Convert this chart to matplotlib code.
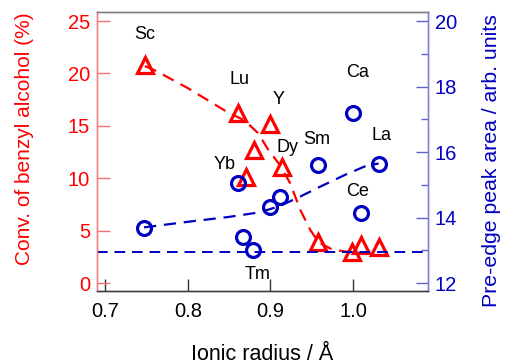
import matplotlib
matplotlib.use("Agg")
import matplotlib.pyplot as plt

plt.rcParams['font.family'] = ['Liberation Sans', 'DejaVu Sans']

# Conversion (%) - red triangles, left axis
conv_x = [0.748, 0.861, 0.870, 0.880, 0.900, 0.914, 0.958, 0.999, 1.010, 1.031]
conv_y = [20.8, 16.2, 10.1, 12.7, 15.2, 11.1, 3.9, 3.0, 3.6, 3.4]

# Pre-edge peak area (arb. units) - blue circles, right axis
peak_x = [0.747, 0.861, 0.867, 0.879, 0.899, 0.911, 0.958, 1.000, 1.010, 1.031]
peak_y = [13.67, 15.04, 13.41, 13.01, 14.33, 14.64, 15.60, 17.18, 14.13, 15.65]

# Trend curves
conv_trend_x = [0.748, 0.760, 0.800, 0.847, 0.869, 0.885, 0.8975, 0.912, 0.924, 0.936, 0.948, 0.958, 0.975, 1.000]
conv_trend_y = [20.7, 20.3, 18.6, 16.35, 15.5, 14.3, 12.7, 11.2, 9.5, 7.0, 5.1, 3.9, 3.2, 2.9]
peak_trend_x = [0.747, 0.800, 0.850, 0.887, 0.910, 0.932, 0.960, 0.990, 1.016, 1.031]
peak_trend_y = [13.70, 13.87, 14.02, 14.16, 14.34, 14.59, 14.94, 15.30, 15.58, 15.65]
peak_baseline = 12.94

labels = ['Sc', 'Lu', 'Y', 'Dy', 'Yb', 'Sm', 'Ca', 'La', 'Ce', 'Tm']
label_x = [0.748, 0.862, 0.910, 0.921, 0.844, 0.956, 1.005, 1.035, 1.005, 0.885]
label_y = [23.7, 19.4, 17.5, 12.9, 11.3, 13.65, 20.1, 14.1, 8.7, 0.8]

xticks = [0.7, 0.8, 0.9, 1.0]
left_ticks = [0, 5, 10, 15, 20, 25]
right_ticks = [12, 14, 16, 18, 20]
right_minor = [13, 15, 17, 19]

RED = '#ff0000'
BLUE = '#0000c0'

fig = plt.figure(figsize=(5.05, 3.64), dpi=100)
ax = fig.add_axes([0.192, 0.2005, 0.6555, 0.7665])
ax2 = ax.twinx()

ax.set_xlim(0.69, 1.0907)
ax.set_ylim(-0.76, 25.86)
ax2.set_ylim(12 - 0.76 * 0.32, 12 + 25.86 * 0.32)

dash = (0, (5.5, 3.5))
ax.plot(conv_trend_x, conv_trend_y, color=RED, lw=1.6, linestyle=dash, zorder=2)
ax.plot(conv_x, conv_y, linestyle='none', marker='^', markersize=11,
        markerfacecolor='none', markeredgecolor=RED, markeredgewidth=2.3, zorder=3)

ax2.plot(peak_trend_x, peak_trend_y, color=BLUE, lw=1.6, linestyle=dash, zorder=2)
ax2.axhline(peak_baseline, color=BLUE, lw=1.4, linestyle=dash, zorder=2)
ax2.plot(peak_x, peak_y, linestyle='none', marker='o', markersize=10,
         markerfacecolor='none', markeredgecolor=BLUE, markeredgewidth=2.3, zorder=3)

for t, x, y in zip(labels, label_x, label_y):
    ax.text(x, y, t, fontsize=13, ha='center', va='center', color='black')

ax.set_xticks(xticks)
ax.set_xticklabels([f'{v:.1f}' for v in xticks])
ax.set_yticks(left_ticks)
ax2.set_yticks(right_ticks)
ax2.set_yticks(right_minor, minor=True)

ax.tick_params(axis='x', direction='in', length=9, width=1, colors='#333333',
               labelsize=14.5, pad=8, labelcolor='black')
ax.tick_params(axis='y', direction='in', length=9, width=1, colors='#f07070',
               labelsize=14.5, labelcolor=RED, pad=5)
ax2.tick_params(axis='y', which='major', direction='in', length=9, width=1,
                colors='#6060d0', labelsize=14.5, labelcolor=BLUE, pad=5)
ax2.tick_params(axis='y', which='minor', direction='in', length=5, width=1,
                colors='#6060d0')

for a in (ax, ax2):
    a.spines['top'].set_color('#808080')
    a.spines['bottom'].set_color('#404040')
    a.spines['left'].set_color('#f08080')
    a.spines['right'].set_color('#8080d8')
    for s in a.spines.values():
        s.set_linewidth(1.0)

ax.set_xlabel('Ionic radius / Å', fontsize=15.5, color='black')
ax.set_ylabel('Conv. of benzyl alcohol (%)', fontsize=15, color=RED)
ax2.set_ylabel('Pre-edge peak area / arb. units', fontsize=15.3, color=BLUE)
ax.xaxis.set_label_coords(0.5, -0.19)
ax.yaxis.set_label_coords(-0.19, 0.545)
ax2.yaxis.set_label_coords(1.163, 0.466)

fig.savefig('out.png', dpi=100)
